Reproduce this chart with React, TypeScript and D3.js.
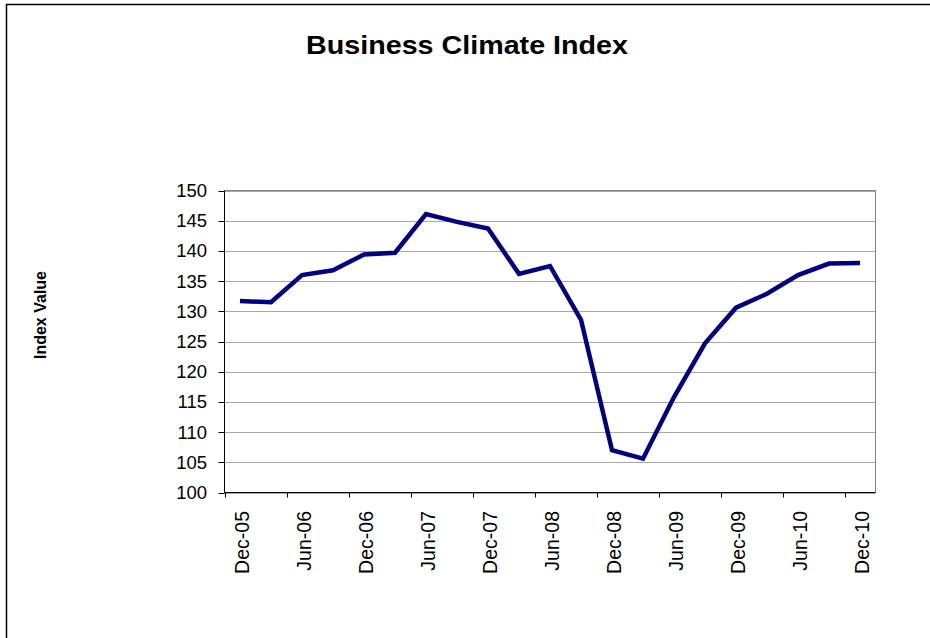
import React from "react";
import * as d3 from "d3";

const categories: string[] = [
  "Dec-05", "Mar-06", "Jun-06", "Sep-06", "Dec-06", "Mar-07", "Jun-07", "Sep-07",
  "Dec-07", "Mar-08", "Jun-08", "Sep-08", "Dec-08", "Mar-09", "Jun-09", "Sep-09",
  "Dec-09", "Mar-10", "Jun-10", "Sep-10", "Dec-10",
];
const indexValues: number[] = [
  131.7, 131.5, 136.0, 136.8, 139.4, 139.7, 146.1, 144.8,
  143.7, 136.2, 137.5, 128.6, 107.0, 105.6, 115.8, 124.7,
  130.6, 132.9, 136.0, 137.9, 138.0,
];
const yTicks: number[] = [100, 105, 110, 115, 120, 125, 130, 135, 140, 145, 150];
const title = "Business Climate Index";
const yLabel = "Index Value";

const W = 930;
const H = 638;
const plot = { left: 224.5, top: 190.5, right: 875.5, bottom: 492.5 };

export default function App() {
  const x = d3
    .scaleBand<string>()
    .domain(categories)
    .range([plot.left, plot.right])
    .paddingInner(0)
    .paddingOuter(0);
  const y = d3.scaleLinear().domain([100, 150]).range([plot.bottom, plot.top]);
  const cx = (c: string) => (x(c) as number) + x.bandwidth() / 2;

  const line = d3
    .line<number>()
    .x((_, i) => cx(categories[i]))
    .y((v) => y(v));

  const tickCats = categories.filter((_, i) => i % 2 === 0);
  const font = "Arial, 'Liberation Sans', sans-serif";

  return (
    <svg
      width={W}
      height={H}
      style={{ position: "absolute", left: 0, top: 0, background: "#fff" }}
      fontFamily={font}
    >
      <rect x={0} y={0} width={W} height={H} fill="#fff" />
      <rect x={6.5} y={4.5} width={W + 20} height={H + 20} fill="none" stroke="#000" strokeWidth={1.5} />
      <text
        x={467}
        y={54}
        textAnchor="middle"
        fontSize={26}
        fontWeight="bold"
        fill="#000"
        textLength={322}
        lengthAdjust="spacingAndGlyphs"
      >
        {title}
      </text>
      <text
        transform={`translate(46,315) rotate(-90)`}
        textAnchor="middle"
        fontSize={16}
        fontWeight="bold"
        fill="#000"
      >
        {yLabel}
      </text>
      {yTicks.map((t) => (
        <line
          key={`g${t}`}
          x1={plot.left}
          x2={plot.right}
          y1={Math.round(y(t)) + 0.5}
          y2={Math.round(y(t)) + 0.5}
          stroke="#a8a8a8"
          strokeWidth={1}
        />
      ))}
      <line x1={plot.left} x2={plot.right} y1={plot.top} y2={plot.top} stroke="#808080" strokeWidth={1} />
      <line x1={plot.right} x2={plot.right} y1={plot.top} y2={plot.bottom} stroke="#808080" strokeWidth={1} />
      <line x1={plot.left} x2={plot.left} y1={plot.top} y2={plot.bottom} stroke="#000" strokeWidth={1} />
      <line x1={plot.left} x2={plot.right} y1={plot.bottom} y2={plot.bottom} stroke="#000" strokeWidth={1} />
      {yTicks.map((t) => (
        <g key={`yt${t}`}>
          <line
            x1={plot.left - 6}
            x2={plot.left}
            y1={Math.round(y(t)) + 0.5}
            y2={Math.round(y(t)) + 0.5}
            stroke="#000"
          />
          <text x={207} y={y(t) + 6.5} textAnchor="end" fontSize={18.5} fill="#000">
            {t}
          </text>
        </g>
      ))}
      {tickCats.map((c) => {
        const xb = Math.round(x(c) as number) + 0.5;
        return (
          <g key={`xt${c}`}>
            <line x1={xb} x2={xb} y1={plot.bottom} y2={plot.bottom + 5} stroke="#000" />
            <text
              transform={`translate(${cx(c) + 9},${511}) rotate(-90)`}
              textAnchor="end"
              fontSize={19.5}
              fill="#000"
            >
              {c}
            </text>
          </g>
        );
      })}
      <path
        d={line(indexValues) || ""}
        fill="none"
        stroke="#000080"
        strokeWidth={4.5}
        strokeLinejoin="miter"
      />
    </svg>
  );
}
